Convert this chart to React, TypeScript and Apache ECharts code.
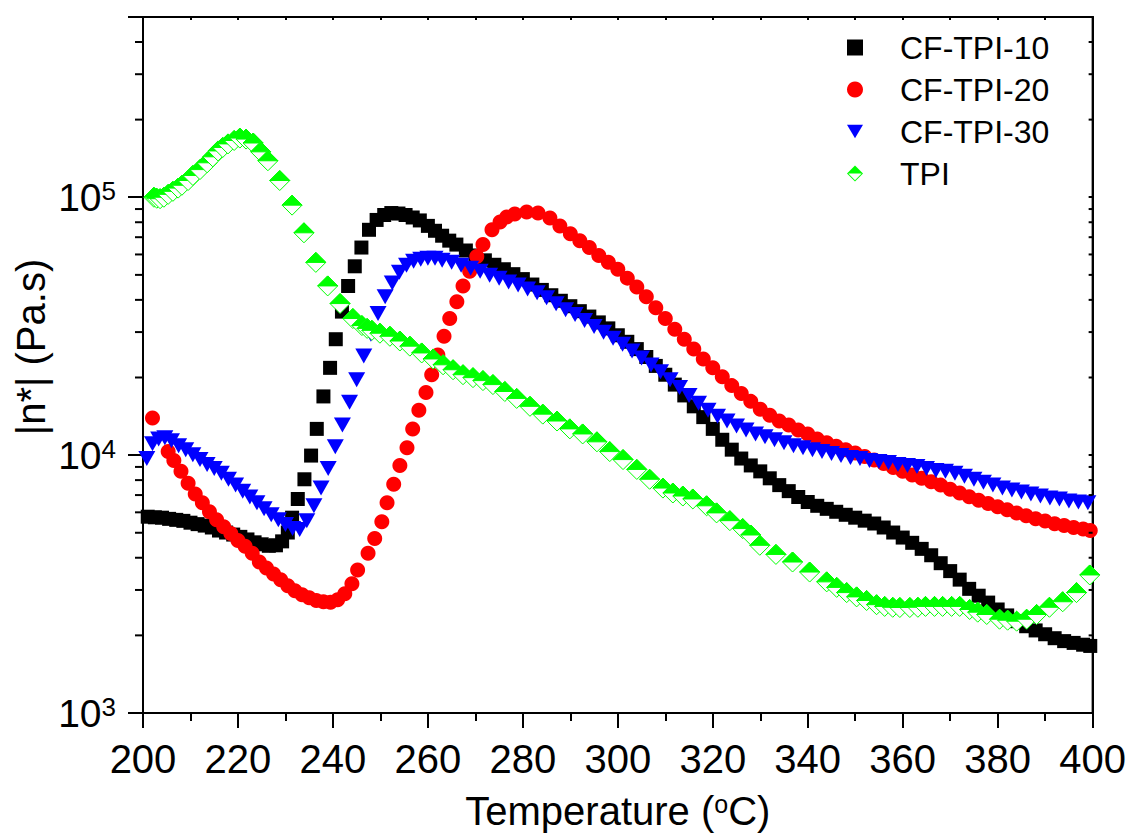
import { useEffect, useRef } from "react";
import * as echarts from "echarts";

// ---- axis ticks ----
const xMin = 200;
const xMax = 400;
const xInterval = 20;
const yMin = 1000;
const yMax = 500000;
const yMinorTicks = [
  2000, 3000, 4000, 5000, 6000, 7000, 8000, 9000,
  20000, 30000, 40000, 50000, 60000, 70000, 80000, 90000,
  200000, 300000, 400000,
];

// ---- series names ----
const seriesNames = ["CF-TPI-10", "CF-TPI-20", "CF-TPI-30", "TPI"];

// ---- data: [temperature (°C), |n*| (Pa.s)] ----
const cfTpi10: [number, number][] = [
  [201, 5770], [202.5, 5740], [204, 5720], [205.5, 5660], [207, 5610], [208.5, 5560], [210, 5470],
  [211.5, 5400], [213, 5330], [214.5, 5240], [216, 5100], [217.5, 5010], [219, 4920], [220.5, 4820],
  [222, 4710], [223.5, 4590], [225, 4510], [226.5, 4450], [228, 4470], [229.3, 4630], [230.5, 5010],
  [231.4, 5720], [232.6, 6760], [234, 8060], [235.4, 9960], [236.6, 12640], [238, 16890], [239.4, 21800],
  [240.6, 28150], [241.9, 36020], [243.2, 45270], [244.6, 53980], [246, 63820], [247.6, 74780],
  [249.2, 81660], [250.8, 85340], [252.3, 86850], [253.8, 86470], [255.3, 85340], [256.8, 83470],
  [258.3, 81300], [260, 77440], [261.5, 74130], [263, 70930], [264.5, 67880], [266, 65530], [268, 62160],
  [270, 59460], [272, 56930], [274, 54720], [276, 52580], [278, 50320], [280, 48150], [282, 45870],
  [284, 43720], [286, 41690], [288, 39680], [290, 37800], [292, 36160], [294, 34460], [296, 32710],
  [298, 31010], [300, 29160], [302, 27510], [304, 25770], [306, 24020], [308, 22180], [310, 20500],
  [312, 18770], [314, 17040], [316, 15460], [318, 14040], [320, 12640], [322, 11470], [324, 10500],
  [326, 9700], [328, 9120], [330, 8650], [332, 8130], [334, 7650], [336, 7250], [338, 6880], [340, 6580],
  [342, 6360], [344, 6190], [346, 6030], [348, 5870], [350, 5720], [352, 5570], [354, 5430], [356, 5240],
  [358, 5010], [360, 4790], [362, 4570], [364, 4330], [366, 4090], [368, 3810], [370, 3550], [372, 3290],
  [374, 3030], [376, 2850], [378, 2680], [380, 2520], [382, 2390], [384, 2270], [386, 2170], [388, 2090],
  [390, 2020], [392, 1950], [394, 1900], [396, 1870], [398, 1840], [399.5, 1820],
];

const cfTpi20: [number, number][] = [
  [202, 13920], [205.3, 10320], [206.5, 9530], [208, 8650], [209.5, 7780], [211, 7060], [212.5, 6530],
  [214, 6030], [215.5, 5620], [217, 5280], [218.5, 4970], [220, 4670], [221.5, 4430], [223, 4165],
  [224.5, 3850], [226, 3650], [227.5, 3460], [229, 3285], [230.5, 3115], [232, 2980], [233.5, 2877],
  [235, 2800], [236.5, 2730], [238, 2700], [239.5, 2690], [241, 2750], [242.5, 2900], [244, 3170],
  [245.2, 3585], [247.4, 4165], [248.8, 4750], [250.3, 5520], [251.4, 6530], [252.8, 7710], [254.1, 9120],
  [255.6, 10690], [256.8, 12640], [258.1, 14930], [259.6, 17490], [260.8, 20500], [262.1, 24440],
  [263.4, 28900], [264.6, 33860], [266.1, 39330], [267.4, 45270], [268.8, 51660], [270.3, 58950],
  [271.6, 65510], [273.5, 74780], [275.2, 80240], [276.6, 83840], [278.3, 86100], [280.8, 87620],
  [283.2, 86870], [285.7, 83110], [287.8, 77440], [290, 72180], [292, 67880], [294, 63820], [296, 59460],
  [298, 55930], [300, 52580], [302, 48570], [304, 44880], [306, 41090], [308, 37310], [310, 33860],
  [312, 30740], [314, 28150], [316, 25770], [318, 23600], [320, 21800], [322, 20150], [324, 18600],
  [326, 17340], [328, 16160], [330, 15060], [332, 14290], [334, 13560], [336, 13090], [338, 12520],
  [340, 12080], [342, 11560], [344, 11160], [346, 10820], [348, 10500], [350, 10190], [352, 9870],
  [354, 9570], [356, 9280], [358, 8960], [360, 8650], [362, 8380], [364, 8130], [366, 7880], [368, 7650],
  [370, 7380], [372, 7130], [374, 6900], [376, 6690], [378, 6490], [380, 6300], [382, 6140], [384, 5970],
  [386, 5820], [388, 5670], [390, 5550], [392, 5420], [394, 5330], [396, 5240], [398, 5170], [399.5, 5100],
];

const cfTpi30: [number, number][] = [
  [200.8, 9700], [202, 11070], [203.3, 11560], [204.6, 11670], [206, 11360], [207.5, 10870], [209, 10500],
  [210.5, 10040], [212, 9610], [213.5, 9200], [215, 8880], [216.5, 8500], [218, 8060], [219.5, 7650],
  [221, 7250], [222.5, 6880], [224, 6530], [225.5, 6190], [227, 5870], [228.5, 5620], [230, 5380],
  [231.5, 5190], [233, 5150], [234.5, 5570], [236, 6360], [237.5, 7450], [239, 8880], [240.5, 10780],
  [242, 13090], [243.5, 16020], [245, 19620], [246.5, 24230], [248, 29420], [249.5, 35380], [251, 41090],
  [252.5, 46490], [254, 51220], [255.5, 54460], [257, 56430], [258.5, 57430], [260, 57940], [261.5, 57940],
  [263, 56930], [265, 55930], [267, 54460], [269, 53040], [271, 51660], [273, 49870], [275, 48570],
  [277, 46890], [279, 45670], [281, 44100], [283, 42580], [285, 40740], [287, 38640], [289, 36660],
  [291, 35070], [293, 33280], [295, 31560], [297, 29940], [299, 28400], [301, 26920], [303, 25320],
  [305, 23810], [307, 22380], [309, 21040], [311, 19620], [313, 18280], [315, 17040], [317, 15880],
  [319, 14920], [321, 14160], [323, 13560], [325, 12970], [327, 12520], [329, 12080], [331, 11770],
  [333, 11470], [335, 11160], [337, 10870], [339, 10690], [341, 10500], [343, 10320], [345, 10140],
  [347, 9960], [349, 9780], [351, 9700], [353, 9530], [355, 9450], [357, 9370], [359, 9200], [361, 9120],
  [363, 9040], [365, 8880], [367, 8720], [369, 8650], [371, 8500], [373, 8280], [375, 8060], [377, 7850],
  [379, 7650], [381, 7450], [383, 7320], [385, 7190], [387, 7060], [389, 6940], [391, 6820], [393, 6760],
  [395, 6640], [397, 6580], [399, 6530],
];

const tpi: [number, number][] = [
  [202.3, 100000], [202.9, 99100], [203.6, 98700], [204.4, 100000], [205.3, 102600], [206.3, 105400],
  [207.4, 108500], [208.2, 111300], [209.5, 116100], [210.5, 121500], [212, 128000], [213.5, 136000],
  [214.7, 143500], [215.8, 151200], [216.8, 156000], [217.9, 161000], [219.2, 166000], [220.4, 169600],
  [221.7, 168100], [223.2, 162300], [224.8, 150000], [226.3, 138500], [228.8, 116100], [231.4, 93200],
  [233.9, 72800], [236.4, 55900], [238.9, 45300], [241.5, 38700], [244.2, 33860], [246.1, 31800],
  [247.2, 31000], [248.2, 30470], [249.9, 29700], [252, 28900], [254.1, 27700], [256.2, 26460],
  [258.7, 24900], [261.1, 23600], [263.2, 22400], [265.3, 21430], [267.4, 20500], [269.5, 19970],
  [271.6, 19450], [273.7, 18770], [276.2, 17650], [278.7, 16590], [281.5, 15460], [284.2, 14420],
  [287.2, 13560], [289.9, 12640], [292.6, 12080], [295.6, 11260], [298.3, 10320], [301.1, 9610],
  [304, 8800], [306.7, 8060], [309.5, 7450], [311.6, 7130], [313.7, 6940], [315.8, 6760], [318.7, 6360],
  [320.8, 5970], [323.6, 5570], [326.3, 5190], [328, 4900], [329.9, 4470], [333.3, 4120], [336.8, 3850],
  [340.4, 3520], [344, 3225], [346.1, 3070], [348.2, 2930], [350.3, 2820], [352.4, 2730], [354.5, 2630],
  [356.2, 2590], [357.9, 2570], [359.4, 2565], [361.5, 2565], [363.2, 2570], [364.8, 2590], [366.7, 2590],
  [368.4, 2590], [370.3, 2590], [372, 2590], [374.1, 2520], [375.8, 2460], [377.7, 2410], [380.4, 2310],
  [382.1, 2290], [384, 2270], [386.1, 2310], [388.2, 2410], [390.9, 2570], [393.7, 2700], [396.6, 2930],
  [399.4, 3430],
];

const FONT = "'Liberation Sans', Arial, Helvetica, sans-serif";
const GREEN = "#00ff00";
const halfDiamondIcon =
  "path://M10,0 L20,10 L0,10 Z M0,10 L10,20 L20,10 L18.3,10 L10,18.3 L1.7,10 Z";

export default function App() {
  const ref = useRef<HTMLDivElement>(null);

  useEffect(() => {
    if (!ref.current) return;
    const chart = echarts.init(ref.current, undefined, { renderer: "svg" });

    const yLabel = (v: number) => {
      const l = Math.log10(v);
      const e = Math.round(l);
      if (Math.abs(l - e) > 1e-6) return "";
      return `{b|10}{s|${e}}`;
    };

    const option: any = {
      animation: false,
      backgroundColor: "#ffffff",
      grid: {
        left: 143,
        right: 36,
        top: 17,
        bottom: 116,
        show: true,
        borderColor: "#000",
        borderWidth: 2,
        backgroundColor: "transparent",
      },
      legend: {
        orient: "vertical",
        left: 842,
        top: 25,
        itemWidth: 16,
        itemHeight: 16,
        itemGap: 7,
        data: [
          { name: seriesNames[0], icon: "rect" },
          { name: seriesNames[1], icon: "circle" },
          { name: seriesNames[2], icon: "path://M0,0 L20,0 L10,17 Z" },
          { name: seriesNames[3], icon: halfDiamondIcon },
        ],
        textStyle: {
          fontSize: 32,
          fontFamily: FONT,
          color: "#000",
          lineHeight: 35,
          padding: [0, 0, 0, 32],
        },
      },
      xAxis: [
        {
          type: "value",
          min: xMin,
          max: xMax,
          interval: xInterval,
          position: "bottom",
          name: "Temperature ({sup|o}C)",
          nameLocation: "middle",
          nameGap: 78,
          nameTextStyle: {
            fontSize: 40,
            fontFamily: FONT,
            color: "#000",
            rich: { sup: { fontSize: 25, fontFamily: FONT, color: "#000", verticalAlign: "top" } },
          },
          axisLine: { show: true, lineStyle: { color: "#000", width: 2 } },
          axisTick: { show: true, inside: false, length: 15, lineStyle: { color: "#000", width: 2 } },
          minorTick: { show: true, splitNumber: 2, length: 8, lineStyle: { color: "#000", width: 2 } },
          axisLabel: { fontSize: 40, fontFamily: FONT, color: "#000", margin: 26 },
          splitLine: { show: false },
        },
        {
          type: "value",
          min: xMin,
          max: xMax,
          interval: xInterval,
          position: "top",
          axisLine: { show: true, lineStyle: { color: "#000", width: 2 } },
          axisTick: { show: true, inside: true, length: 3, lineStyle: { color: "#000", width: 2 } },
          minorTick: { show: true, splitNumber: 2, length: 3, lineStyle: { color: "#000", width: 2 } },
          axisLabel: { show: false },
          splitLine: { show: false },
        },
      ],
      yAxis: [
        {
          type: "log",
          logBase: 10,
          min: yMin,
          max: yMax,
          position: "left",
          axisLine: { show: true, lineStyle: { color: "#000", width: 2 } },
          axisTick: { show: true, inside: false, length: 15, lineStyle: { color: "#000", width: 2 } },
          axisLabel: {
            formatter: yLabel,
            margin: 27,
            color: "#000",
            rich: {
              b: { fontSize: 39, fontFamily: FONT, color: "#000" },
              s: { fontSize: 26, fontFamily: FONT, color: "#000", verticalAlign: "top" },
            },
          },
          splitLine: { show: false },
        },
        {
          type: "log",
          logBase: 10,
          min: yMin,
          max: yMax,
          position: "right",
          axisLine: { show: true, lineStyle: { color: "#000", width: 2 } },
          axisTick: { show: true, inside: true, length: 4, lineStyle: { color: "#000", width: 2 } },
          axisLabel: { show: false },
          splitLine: { show: false },
        },
      ],
      graphic: [
        {
          type: "text",
          x: 31,
          y: 347,
          rotation: Math.PI / 2,
          style: {
            text: "|n*| (Pa.s)",
            font: `40px ${FONT}`,
            fill: "#000",
            textAlign: "center",
            textVerticalAlign: "middle",
          },
        },
      ],
      series: [
        {
          name: seriesNames[0],
          type: "scatter",
          data: cfTpi10,
          symbol: "rect",
          symbolSize: 14,
          itemStyle: { color: "#000000", opacity: 1 },
          z: 2,
        },
        {
          name: seriesNames[1],
          type: "scatter",
          data: cfTpi20,
          symbol: "circle",
          symbolSize: 15,
          itemStyle: { color: "#ff0000", opacity: 1 },
          z: 3,
        },
        {
          name: seriesNames[2],
          type: "scatter",
          data: cfTpi30,
          symbol: "triangle",
          symbolRotate: 180,
          symbolSize: [17, 15],
          itemStyle: { color: "#0000ff", opacity: 1 },
          z: 4,
        },
        {
          name: seriesNames[3],
          type: "custom",
          data: tpi,
          z: 5,
          itemStyle: { color: GREEN },
          renderItem: (_params: any, api: any) => {
            const p = api.coord([api.value(0), api.value(1)]);
            const h = 10;
            return {
              type: "group",
              children: [
                {
                  type: "polygon",
                  shape: { points: [[p[0], p[1] - h], [p[0] + h, p[1]], [p[0], p[1] + h], [p[0] - h, p[1]]] },
                  style: { fill: "#ffffff", stroke: GREEN, lineWidth: 1 },
                },
                {
                  type: "polygon",
                  shape: { points: [[p[0], p[1] - h], [p[0] + h, p[1]], [p[0] - h, p[1]]] },
                  style: { fill: GREEN, stroke: GREEN, lineWidth: 1 },
                },
              ],
            };
          },
        },
        {
          name: "minorTicks",
          type: "custom",
          data: yMinorTicks.map((v) => [xMin, v]),
          silent: true,
          clip: false,
          z: 10,
          renderItem: (_params: any, api: any) => {
            const v = api.value(1);
            const pL = api.coord([xMin, v]);
            const pR = api.coord([xMax, v]);
            return {
              type: "group",
              children: [
                {
                  type: "line",
                  shape: { x1: pL[0] - 8, y1: pL[1], x2: pL[0], y2: pL[1] },
                  style: { stroke: "#000", lineWidth: 2 },
                },
                {
                  type: "line",
                  shape: { x1: pR[0] - 4, y1: pR[1], x2: pR[0], y2: pR[1] },
                  style: { stroke: "#000", lineWidth: 2 },
                },
              ],
            };
          },
        },
      ],
    };

    chart.setOption(option);
    return () => chart.dispose();
  }, []);

  return (
    <div
      ref={ref}
      style={{ position: "absolute", left: 0, top: 0, width: 1129, height: 836, background: "#fff" }}
    />
  );
}
